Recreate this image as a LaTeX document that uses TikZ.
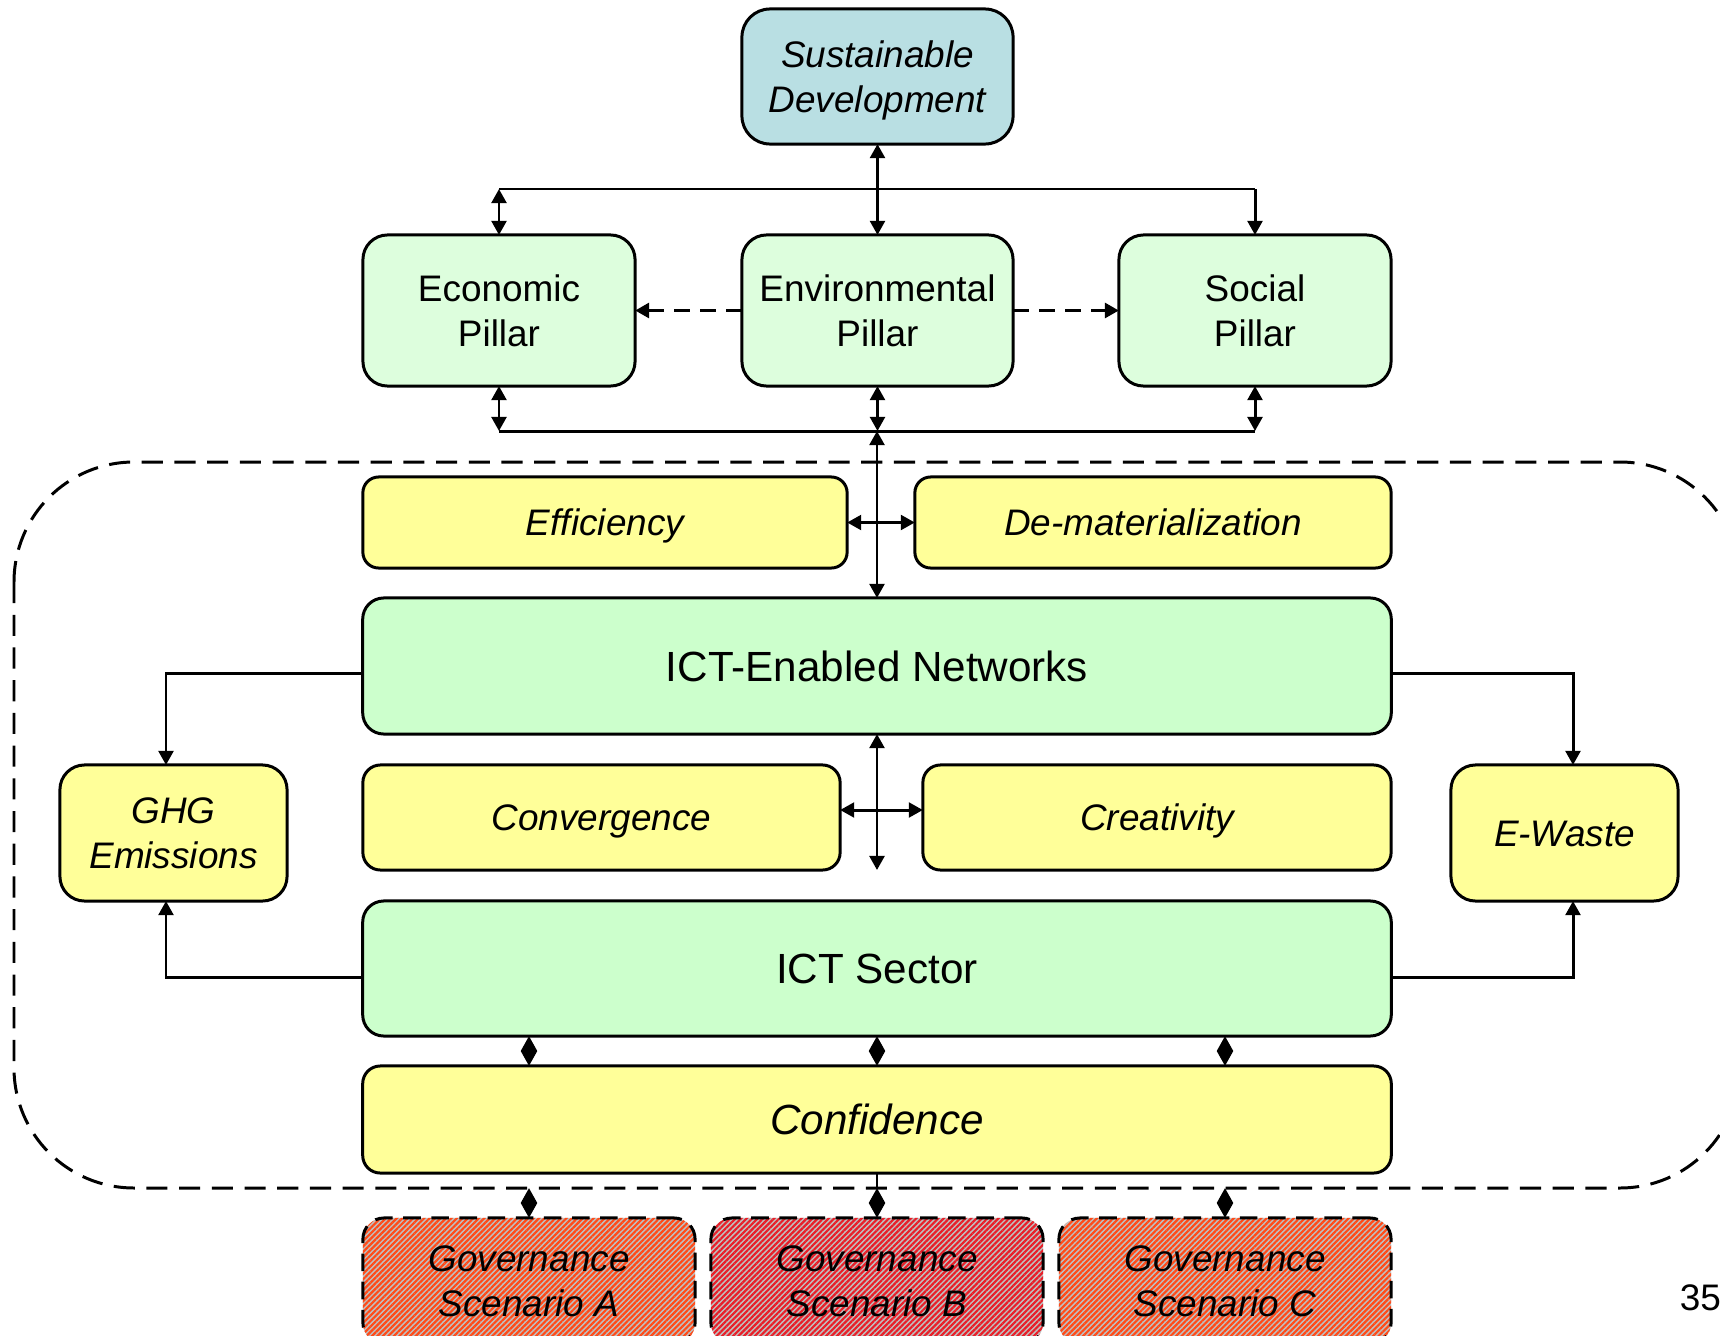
\documentclass[tikz,border=0pt]{standalone}
\usepackage{fontspec}
\setmainfont{Liberation Sans}
\usetikzlibrary{arrows.meta,patterns.meta}
\definecolor{sdblue}{HTML}{B9DFE3}
\definecolor{pillgreen}{HTML}{DDFEDD}
\definecolor{ictgreen}{HTML}{CCFFCC}
\definecolor{yel}{HTML}{FFFF99}
\definecolor{govorange}{HTML}{FF4A18}
\definecolor{govred}{HTML}{E81E28}
\definecolor{govgray}{HTML}{C0C0C0}
\newcommand\mytwo[2]{\vtop{\halign{\hfil##\hfil\cr#1\cr#2\cr}}}
\begin{document}
\begin{tikzpicture}[x=0.01cm, y=-0.01cm,
  every node/.style={inner sep=0pt, outer sep=0pt},
  bx/.style={draw, line width=0.85pt, align=center, rounded corners=#1},
  bx/.default=6pt,
  one/.style={text height=7.52pt, text depth=0pt},
  onel/.style={text height=8.59pt, text depth=0pt},
  two/.style={text height=7.52pt, text depth=12.8pt},
  fs/.style={font=\fontsize{10.5}{12.8}\selectfont},
  fsi/.style={font=\fontsize{10.5}{12.8}\selectfont\itshape},
  fl/.style={font=\fontsize{12}{14.5}\selectfont},
  fli/.style={font=\fontsize{12}{14.5}\selectfont\itshape},
  conn/.style={line width=0.85pt},
  >={Triangle[length=4pt,width=4.2pt]},
  dia/.style={line width=0.85pt, arrows={Triangle[length=4.2pt,width=4.4pt]-Triangle[length=4.2pt,width=4.4pt]}},
  gov/.style={bx=6pt, draw, dashed, dash pattern=on 5pt off 3pt, fsi, two,
    minimum width=3.32cm, minimum height=1.26cm,
    preaction={fill=govgray},
    preaction={pattern={Lines[angle=45,distance=1.1pt,line width=0.62pt]}, pattern color=#1}},
  container/.style={line width=0.85pt, dash pattern=on 6pt off 3.3pt, rounded corners=1.2cm},
  pdash/.style={line width=1pt, dash pattern=on 4.6pt off 2.8pt}
]
\useasboundingbox (0,0) rectangle (1720,1336);
\clip (0,0) rectangle (1720,1336);

% container
\draw[container] (14,462) rectangle (1740,1188);

% nodes
\node[bx=8pt, fill=sdblue, fsi, two, minimum width=2.71cm, minimum height=1.35cm] (sd) at (877.5,76.5) {\mytwo{Sustainable}{Development}};
\node[bx=7pt, fill=pillgreen, fs, two, minimum width=2.72cm, minimum height=1.51cm] (econ) at (499,310.5) {\mytwo{Economic}{Pillar}};
\node[bx=7pt, fill=pillgreen, fs, two, minimum width=2.71cm, minimum height=1.51cm] (env) at (877.5,310.5) {\mytwo{Environmental}{Pillar}};
\node[bx=7pt, fill=pillgreen, fs, two, minimum width=2.72cm, minimum height=1.51cm] (soc) at (1255,310.5) {\mytwo{Social}{Pillar}};

\node[bx=4.5pt, fill=yel, fsi, one, minimum width=4.84cm, minimum height=0.91cm] (eff) at (605,522.5) {Efficiency};
\node[bx=4.5pt, fill=yel, fsi, one, minimum width=4.76cm, minimum height=0.91cm] (demat) at (1153,522.5) {De-materialization};

\node[bx=6pt, fill=ictgreen, fl, onel, minimum width=10.28cm, minimum height=1.36cm] (icten) at (877,666) {ICT-Enabled Networks};

\node[bx=5pt, fill=yel, fsi, one, minimum width=4.77cm, minimum height=1.05cm] (conv) at (601.5,817.5) {Convergence};
\node[bx=5pt, fill=yel, fsi, one, minimum width=4.68cm, minimum height=1.05cm] (creat) at (1157,817.5) {Creativity};

\node[bx=7pt, fill=yel, fsi, two, minimum width=2.27cm, minimum height=1.36cm] (ghg) at (173.5,833) {\mytwo{GHG}{Emissions}};
\node[bx=7pt, fill=yel, fsi, one, minimum width=2.27cm, minimum height=1.36cm] (ewaste) at (1564.5,833) {E-Waste};

\node[bx=6pt, fill=ictgreen, fl, onel, minimum width=10.28cm, minimum height=1.35cm] (ictsec) at (877,968.5) {ICT Sector};
\node[bx=5pt, fill=yel, fli, onel, minimum width=10.28cm, minimum height=1.07cm] (conf) at (877,1119.5) {Confidence};

\node[gov=govorange] (gA) at (529,1281) {\mytwo{Governance}{Scenario A}};
\node[gov=govred] (gB) at (877,1281) {\mytwo{Governance}{Scenario B}};
\node[gov=govorange] (gC) at (1225,1281) {\mytwo{Governance}{Scenario C}};

\node[fs, anchor=east] (pg) at (1721,1298) {35};

% coordinates
\coordinate (topbus) at (877,189);
\coordinate (botbus) at (877,431);
\coordinate (hc) at (877,810);
\coordinate (gl1) at (166,673);
\coordinate (gl2) at (166,977);
\coordinate (gr1) at (1573,673);
\coordinate (gr2) at (1573,977);
\coordinate (dl) at (877,1188);

% top connectors
\draw[conn,<->] (sd.south) -- (env.north);
\draw[conn] (econ.north |- topbus) -- (soc.north |- topbus);
\draw[conn,<->] (econ.north |- topbus) -- (econ.north);
\draw[conn,->] (soc.north |- topbus) -- (soc.north);
\draw[pdash,->] (env.west) -- (econ.east);
\draw[pdash,->] (env.east) -- (soc.west);

% bottom bus
\draw[conn] (econ.south |- botbus) -- (soc.south |- botbus);
\draw[conn,<->] (econ.south) -- (econ.south |- botbus);
\draw[conn,<->] (env.south) -- (env.south |- botbus);
\draw[conn,<->] (soc.south) -- (soc.south |- botbus);
\draw[conn,<->] (botbus) -- (icten.north);
\draw[conn,<->] (eff.east) -- (demat.west);

% middle cross
\draw[conn,<->] (icten.south) -- (icten.south |- conv.south);
\draw[conn,<->] (conv.east |- hc) -- (creat.west |- hc);

% side connectors
\draw[conn,->] (icten.west |- gl1) -- (gl1) -- (gl1 |- ghg.north);
\draw[conn,->] (ictsec.west |- gl2) -- (gl2) -- (gl2 |- ghg.south);
\draw[conn,->] (icten.east |- gr1) -- (gr1) -- (gr1 |- ewaste.north);
\draw[conn,->] (ictsec.east |- gr2) -- (gr2) -- (gr2 |- ewaste.south);

% ICT sector <-> confidence
\draw[dia] (ictsec.south -| gA.north) -- (conf.north -| gA.north);
\draw[dia] (ictsec.south -| gB.north) -- (conf.north -| gB.north);
\draw[dia] (ictsec.south -| gC.north) -- (conf.north -| gC.north);

% confidence <-> governance
\draw[conn] (conf.south) -- (dl);
\draw[dia] (dl -| gA.north) -- (gA.north);
\draw[dia] (dl) -- (gB.north);
\draw[dia] (dl -| gC.north) -- (gC.north);
\end{tikzpicture}
\end{document}
